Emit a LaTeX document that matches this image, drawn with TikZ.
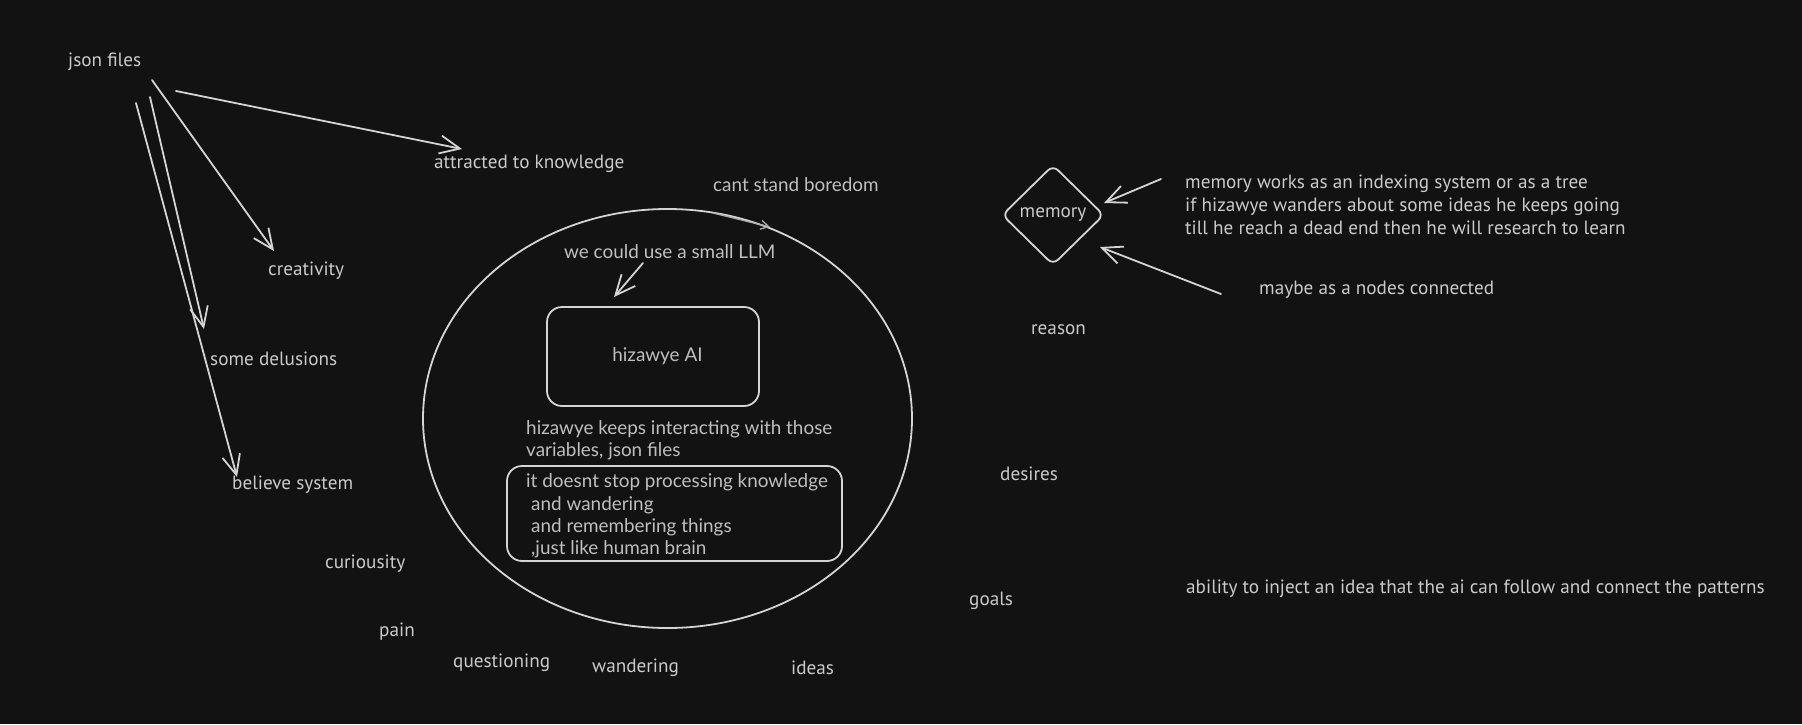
\documentclass[tikz,border=0pt]{standalone}
\usepackage{fontspec}
\setmainfont{PT Sans}
\newfontfamily\roundfont{Lato}
\usetikzlibrary{arrows.meta,shapes.geometric}
\definecolor{bg}{HTML}{121212}
\definecolor{ink}{HTML}{D4D4D4}
\definecolor{txt}{HTML}{CACACA}
\definecolor{txtb}{HTML}{BFBFBF}
\begin{document}
\begin{tikzpicture}[x=1pt,y=-1pt,
  lbl/.style={anchor=west,inner sep=0pt,yshift=-2pt,text=txt,font=\fontsize{19.2}{23}\selectfont,align=left},
  lblb/.style={anchor=west,inner sep=0pt,yshift=-1.5pt,text=txtb,font=\roundfont\fontsize{18.9}{22.3}\selectfont,align=left},
  conn/.style={draw=ink,line width=1.8pt,line cap=round,-{Straight Barb[length=20pt,width=18pt]}},
  smallconn/.style={draw=ink!80!bg,line width=1.3pt,line cap=round,-{Straight Barb[length=8pt,width=9pt]}},
  outline/.style={draw=ink,line width=1.8pt}]
\fill[bg] (0,0) rectangle (1802,724);
\useasboundingbox (0,0) rectangle (1802,724);

% left labels
\node[lbl] (json) at (68,60) {json files};
\node[lbl] (attr) at (434,162) {attracted to knowledge};
\node[lbl] (creat) at (268,269) {creativity};
\node[lbl] (delu) at (210,357) {some delusions};
\node[lbl] (belief) at (232,483) {believe system};
\node[lbl] (curio) at (325,562) {curiousity};
\node[lbl] (pain) at (379,630) {pain};
\node[lbl] (quest) at (453,661) {questioning};
\node[lbl] (wand) at (592,666) {wandering};
\node[lbl] (ideas) at (791,666) {ideas};
\node[lbl] (goals) at (969,599) {goals};
\node[lbl] (desires) at (1000,472) {desires};
\node[lbl] (reason) at (1031,328) {reason};

% arrows from json files
\coordinate (a1s) at (176,91);  \coordinate (a1e) at (462,149);
\coordinate (a2s) at (152,80);  \coordinate (a2e) at (274,251);
\coordinate (a3s) at (150,97);  \coordinate (a3e) at (204,329);
\coordinate (a4s) at (136,103); \coordinate (a4e) at (237,477);
\draw[conn] (a1s) -- (a1e);
\draw[conn] (a2s) -- (a2e);
\draw[conn] (a3s) -- (a3e);
\draw[conn] (a4s) -- (a4e);

% brain ellipse
\node[ellipse,outline,minimum width=489pt,minimum height=419pt,inner sep=0pt] (brain) at (667.5,418.5) {};
\node[lblb] (bored) at (713,183) {cant stand boredom};
\coordinate (b1s) at (713,213); \coordinate (b1e) at (770,227);
\draw[smallconn] (b1s) -- (b1e);

\node[lblb] (llm) at (564,250) {we could use a small LLM};
\node[outline,rounded corners=15pt,minimum width=212pt,minimum height=99pt,inner sep=0pt,
      text=txtb,font=\roundfont\fontsize{18.9}{22}\selectfont] (ai) at (653,356.5) {\hspace*{9pt}hizawye AI};
\coordinate (l1s) at (643,263); \coordinate (l1e) at (614,297);
\draw[conn] (l1s) -- (l1e);

\node[lblb] (keeps) at (526,439) {hizawye keeps interacting with those\\variables, json files};
\node[outline,rounded corners=15pt,minimum width=335pt,minimum height=95pt,inner sep=0pt] (think) at (674.5,513.5) {};
\node[lblb] (thinktxt) at (526,514.5) {it doesnt stop processing knowledge\\\hspace{5pt}and wandering\\\hspace{5pt}and remembering things\\\hspace{5pt},just like human brain};

% memory
\node[diamond,outline,rounded corners=7pt,minimum width=102pt,minimum height=100pt,inner sep=0pt,
      text=txt,font=\fontsize{19.2}{22}\selectfont] (memory) at (1053,215) {memory};
\node[lbl] (memtxt) at (1185,203) {memory works as an indexing system or as a tree\\if hizawye wanders about some ideas he keeps going\\till he reach a dead end then he will research to learn};
\node[lbl] (maybe) at (1259,288) {maybe as a nodes connected};
\coordinate (m1s) at (1161,179); \coordinate (m1e) at (1104,203);
\coordinate (m2s) at (1221,294); \coordinate (m2e) at (1100,247);
\draw[conn] (m1s) -- (m1e);
\draw[conn] (m2s) -- (m2e);

\node[lbl] (inject) at (1186,587) {ability to inject an idea that the ai can follow and connect the patterns};
\end{tikzpicture}
\end{document}
